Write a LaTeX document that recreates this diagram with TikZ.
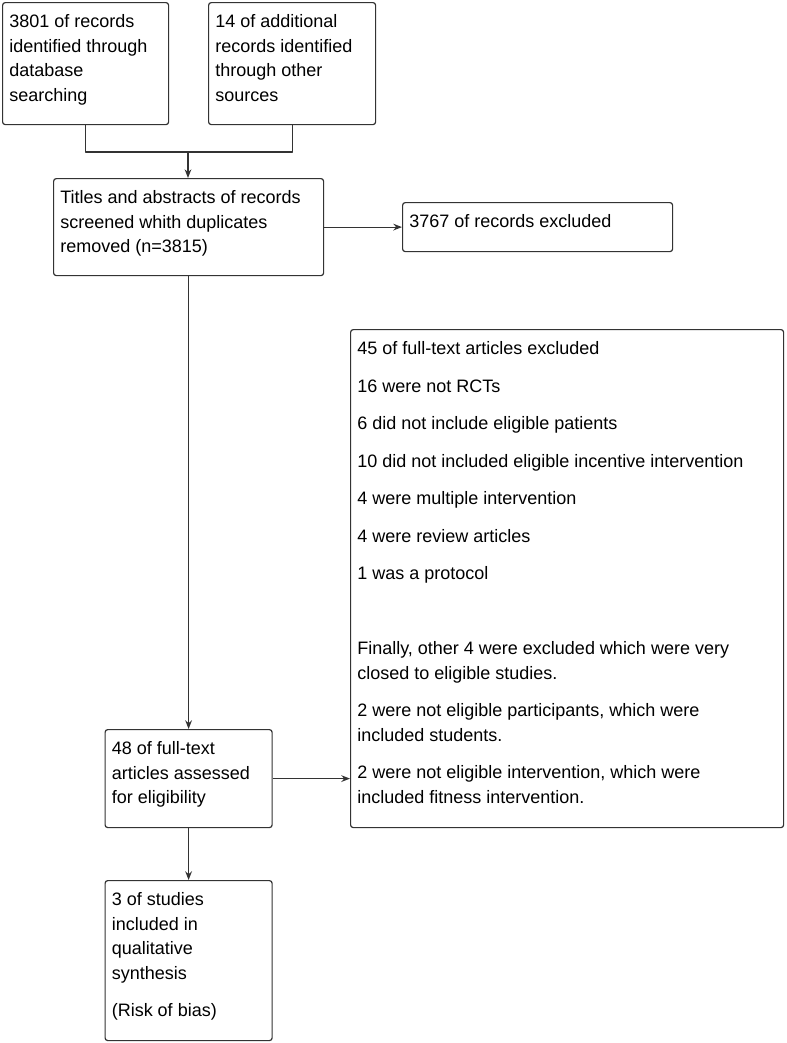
\documentclass[tikz,border=0pt]{standalone}
\usepackage{fontspec}
\setmainfont{Liberation Sans}
\usetikzlibrary{arrows.meta}
% text of a box: width, height, lines
\newcommand{\boxtext}[3]{\parbox[t][\dimexpr#2-12pt\relax][t]{\dimexpr#1-10pt\relax}{\raggedright\strut#3}}
\tikzset{
 flow/.style={draw=black!80, line width=0.9pt, rounded corners=2pt, anchor=north west,
  inner xsep=5pt, inner ysep=6pt, font=\fontsize{13.5}{18.4}\selectfont},
 link/.style={draw=black!80, line width=0.9pt},
}
\begin{document}
\begin{tikzpicture}[x=0.75pt, y=-0.75pt, line join=round, >={Stealth[length=6.5pt,width=5pt]}]
\useasboundingbox (0,0) rectangle (787,1043);
% boxes
\node[flow] (db) at (2,2) {\boxtext{124.5pt}{91.5pt}{3801 of records\\identified through\\database\\searching}};
\node[flow] (other) at (208,2) {\boxtext{125.25pt}{91.5pt}{14 of additional\\records identified\\through other\\sources}};
\node[flow] (screen) at (53,178) {\boxtext{202.5pt}{72.75pt}{Titles and abstracts of records\\screened whith duplicates\\removed (n=3815)}};
\node[flow] (excl) at (402,202) {\boxtext{202.5pt}{36.75pt}{3767 of records excluded}};
\node[flow] (full) at (104.5,729) {\boxtext{125.25pt}{73.5pt}{48 of full-text\\articles assessed\\for eligibility}};
\node[flow] (fullexcl) at (350,329) {\boxtext{324.75pt}{373.5pt}{45 of full-text articles excluded\\[9.7pt]
16 were not RCTs\\[9.7pt]
6 did not include eligible patients\\[9.7pt]
10 did not included eligible incentive intervention\\[9.7pt]
4 were multiple intervention\\[9.7pt]
4 were review articles\\[9.7pt]
1 was a protocol\\[37.8pt]
Finally, other 4 were excluded which were very\\closed to eligible studies.\\[9.7pt]
2 were not eligible participants, which were\\included students.\\[9.7pt]
2 were not eligible intervention, which were\\included fitness intervention.}};
\node[flow] (incl) at (104.5,880) {\boxtext{125.25pt}{120pt}{3 of studies\\included in\\qualitative\\synthesis\\[9.7pt](Risk of bias)}};
% connectors
\coordinate (join) at (188,152);
\draw[link] (db.south) |- (join) -| (other.south);
\draw[link,->] (join) -- (join |- screen.north);
\draw[link,->] (screen.east) -- (excl.west);
\draw[link,->] (screen.south) -- (screen.south |- full.north);
\draw[link,->] (full.east) -- (full.east -| fullexcl.west);
\draw[link,->] (full.south) -- (full.south |- incl.north);
\end{tikzpicture}
\end{document}
